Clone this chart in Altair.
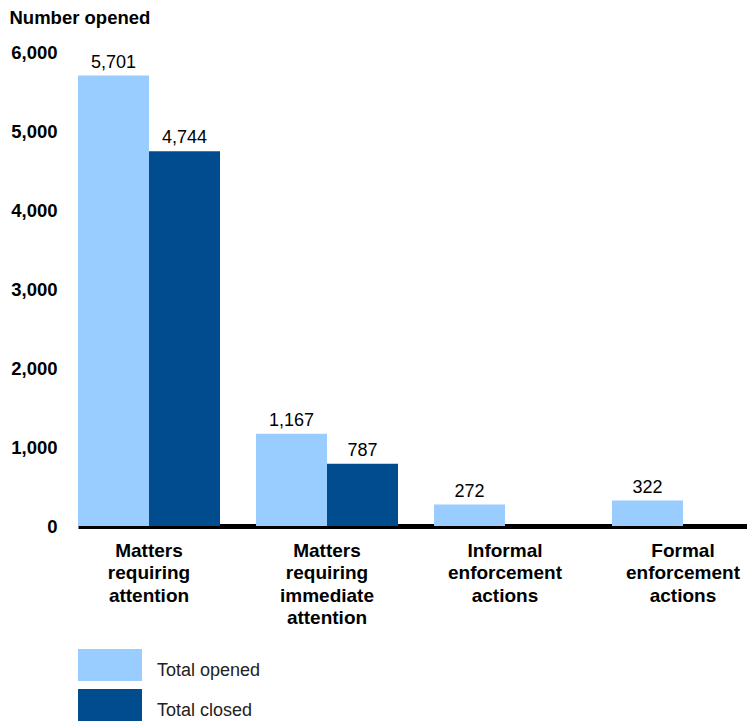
import altair as alt
import pandas as pd

categories = [
    "Matters requiring attention",
    "Matters requiring immediate attention",
    "Informal enforcement actions",
    "Formal enforcement actions",
]
series = ["Total opened", "Total closed"]
opened = [5701, 1167, 272, 322]
closed = [4744, 787]
colors = ["#99CCFF", "#004C8F"]
y_ticks = [0, 1000, 2000, 3000, 4000, 5000, 6000]

rows = []
for c, v in zip(categories, opened):
    rows.append({"category": c, "series": series[0], "value": v})
for c, v in zip(categories, closed):
    rows.append({"category": c, "series": series[1], "value": v})
df = pd.DataFrame(rows)

FONT = "Liberation Sans"

x_axis = alt.Axis(
    title=None,
    labelAngle=0,
    labelExpr="split(datum.label, ' ')",
    labelFont=FONT,
    labelFontSize=19,
    labelFontWeight="bold",
    labelColor="#000000",
    labelLineHeight=22.5,
    labelPadding=15,
    ticks=False,
    grid=False,
    domainColor="#000000",
    domainWidth=5,
    labelBaseline="top",
)
y_axis = alt.Axis(
    values=y_ticks,
    labelExpr="format(datum.value, ',')",
    title="Number opened",
    titleAngle=0,
    titleAlign="left",
    titleBaseline="middle",
    titleX=-69,
    titleY=-35,
    titleFont=FONT,
    titleFontSize=18.5,
    titleFontWeight="bold",
    titleColor="#000000",
    labelFont=FONT,
    labelFontSize=18.5,
    labelFontWeight="bold",
    labelColor="#000000",
    labelPadding=21,
    ticks=False,
    domain=False,
    grid=False,
)

x_enc = alt.X(
    "category:N",
    sort=categories,
    scale=alt.Scale(paddingInner=36 / 178, paddingOuter=0, range=[0, 676]),
    axis=x_axis,
)
xoff_enc = alt.XOffset(
    "series:N",
    sort=series,
    scale=alt.Scale(domain=series, paddingInner=0, paddingOuter=0),
)
y_enc = alt.Y(
    "value:Q",
    scale=alt.Scale(domain=[0, 6000], nice=False),
    axis=y_axis,
)

bars = alt.Chart(df).mark_bar().encode(
    x=x_enc,
    xOffset=xoff_enc,
    y=y_enc,
    color=alt.Color(
        "series:N",
        sort=series,
        scale=alt.Scale(domain=series, range=colors),
        legend=alt.Legend(
            title=None,
            orient="none",
            legendX=16,
            legendY=603,
            padding=0,
            symbolType="M-2,-1.375H2V0.625H-2Z",
            symbolSize=1024,
            symbolStrokeWidth=0,
            rowPadding=8,
            labelOffset=31,
            labelFont=FONT,
            labelFontSize=18,
            labelColor="#222222",
            direction="vertical",
        ),
    ),
)

labels = alt.Chart(df).mark_text(
    baseline="bottom", dy=-4, font=FONT, fontSize=18, color="#000000"
).encode(
    x=alt.X("category:N", sort=categories, axis=x_axis),
    xOffset=alt.XOffset("series:N", sort=series),
    y=alt.Y("value:Q", axis=y_axis),
    text=alt.Text("value:Q", format=","),
)

chart = (
    alt.layer(bars, labels)
    .properties(
        width=669,
        height=474,
        autosize=alt.AutoSizeParams(type="none"),
        padding={"left": 70, "top": 44, "right": 0, "bottom": 196},
        view=alt.ViewBackground(stroke="transparent", strokeWidth=0),
    )
    .configure_view(strokeWidth=0, stroke="transparent")
    .configure_axis(grid=False)
    .configure(background="white")
)

chart.save("out.html", embed_options={"renderer": "svg", "actions": False})
